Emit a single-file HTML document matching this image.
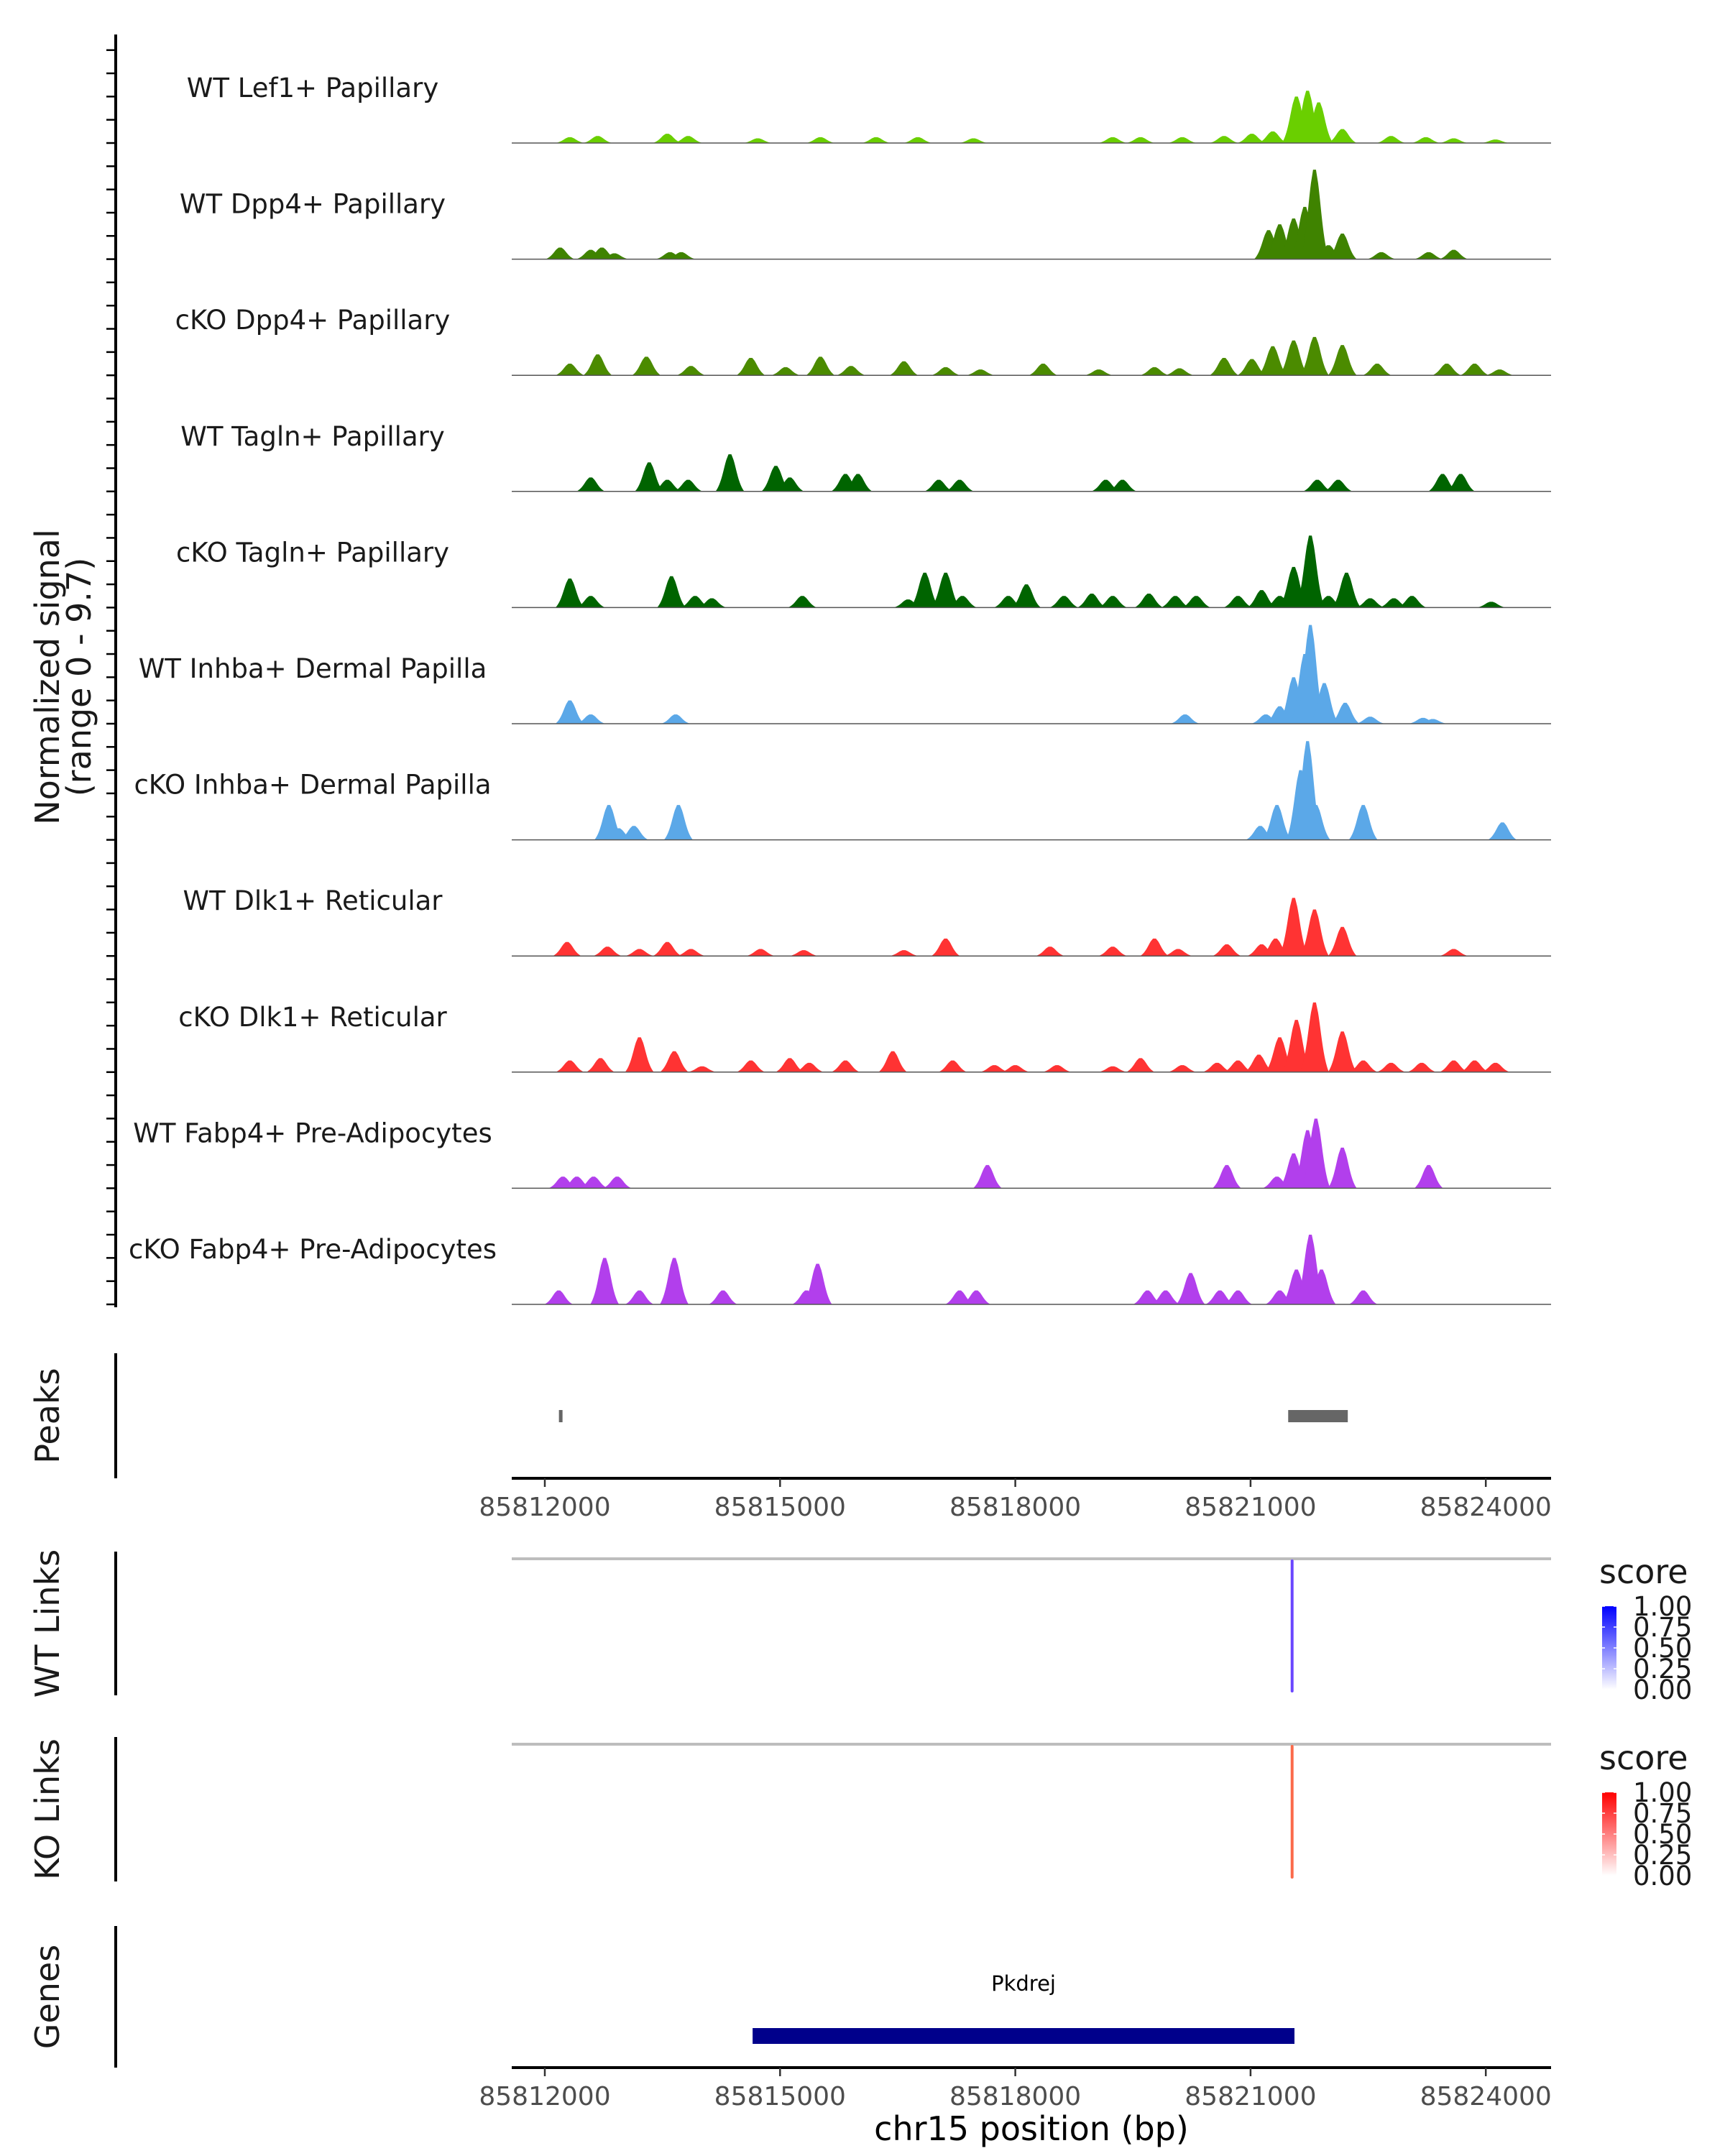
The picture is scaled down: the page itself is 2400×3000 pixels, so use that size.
<!DOCTYPE html>
<html><head><meta charset="utf-8"><style>
body{margin:0;background:#fff}
svg{display:block;font-family:"DejaVu Sans","Liberation Sans",sans-serif}
</style></head><body>
<svg id="chart" width="2400" height="3000" viewBox="0 0 2400 3000" xmlns="http://www.w3.org/2000/svg"></svg>
<script>
// ---- data (peak positions given on reference pixel grid -> converted to bp; heights as fraction of track range 0-9.7) ----
const trackNames = ["WT Lef1+ Papillary","WT Dpp4+ Papillary","cKO Dpp4+ Papillary","WT Tagln+ Papillary","cKO Tagln+ Papillary","WT Inhba+ Dermal Papilla","cKO Inhba+ Dermal Papilla","WT Dlk1+ Reticular","cKO Dlk1+ Reticular","WT Fabp4+ Pre-Adipocytes","cKO Fabp4+ Pre-Adipocytes"];
const trackColors = ["#6acf00","#3f8300","#4b8b00","#006400","#006400","#5ba8e8","#5ba8e8","#ff3333","#ff3333","#b23fec","#b23fec"];
const peaksLef1 = [[410,.05],[430,.06],[480,.08],[495,.06],[545,.04],[590,.05],[630,.05],[660,.05],[700,.04],[800,.05],[820,.05],[850,.05],[880,.06],[900,.08],[915,.1],[932,.4],[940,.45],[948,.35],[965,.12],[1000,.06],[1025,.05],[1045,.04],[1075,.03]];
const peaksDpp4WT = [[403,.1],[425,.08],[433,.1],[442,.05],[482,.06],[490,.06],[912,.25],[920,.3],[930,.35],[938,.45],[945,.77],[955,.12],[965,.22],[993,.06],[1027,.06],[1045,.08]];
const peaksDpp4KO = [[410,.1],[430,.18],[465,.16],[497,.08],[540,.15],[565,.07],[590,.16],[612,.08],[650,.12],[680,.07],[705,.05],[750,.1],[790,.05],[830,.07],[848,.06],[880,.15],[900,.14],[915,.25],[930,.3],[945,.33],[965,.26],[990,.1],[1040,.1],[1060,.1],[1078,.05]];
const peaksTaglnWT = [[425,.12],[467,.25],[480,.1],[495,.1],[525,.32],[558,.22],[568,.12],[608,.15],[617,.15],[675,.1],[690,.1],[795,.1],[807,.1],[947,.1],[962,.1],[1037,.15],[1050,.15]];
const peaksTaglnKO = [[410,.25],[425,.1],[483,.27],[500,.1],[512,.08],[577,.1],[653,.07],[665,.3],[680,.3],[692,.1],[725,.1],[738,.2],[765,.1],[785,.12],[800,.1],[826,.12],[845,.1],[860,.1],[890,.1],[907,.15],[920,.1],[930,.35],[942,.62],[955,.1],[968,.3],[985,.08],[1002,.08],[1015,.1],[1072,.05]];
const peaksInhbaWT = [[410,.2],[425,.08],[486,.08],[852,.08],[910,.08],[920,.15],[930,.4],[938,.6],[942,.85],[952,.35],[967,.18],[985,.06],[1023,.05],[1030,.04]];
const peaksInhbaKO = [[438,.3],[445,.1],[456,.12],[488,.3],[906,.12],[918,.3],[935,.6],[940,.85],[946,.3],[980,.3],[1080,.15]];
const peaksDlk1WT = [[408,.12],[437,.08],[460,.06],[480,.12],[497,.06],[547,.06],[578,.05],[650,.05],[680,.15],[755,.08],[800,.08],[830,.15],[847,.06],[882,.1],[907,.1],[917,.15],[930,.5],[945,.4],[965,.25],[1045,.06]];
const peaksDlk1KO = [[410,.1],[432,.12],[460,.3],[485,.18],[505,.05],[540,.1],[568,.12],[582,.08],[608,.1],[642,.18],[685,.1],[715,.06],[730,.06],[760,.06],[800,.05],[820,.12],[850,.06],[875,.08],[890,.1],[905,.15],[920,.3],[932,.45],[945,.6],[965,.35],[980,.1],[1000,.08],[1022,.08],[1045,.1],[1060,.1],[1075,.08]];
const peaksFabp4WT = [[405,.1],[415,.1],[427,.1],[444,.1],[710,.2],[882,.2],[918,.1],[930,.3],[940,.5],[946,.6],[965,.35],[1027,.2]];
const peaksFabp4KO = [[402,.12],[435,.4],[460,.12],[485,.4],[520,.12],[580,.12],[588,.35],[690,.12],[702,.12],[825,.12],[838,.12],[856,.27],[877,.12],[890,.12],[920,.12],[932,.3],[942,.6],[950,.3],[980,.12]];
const trackPeaks = [peaksLef1,peaksDpp4WT,peaksDpp4KO,peaksTaglnWT,peaksTaglnKO,peaksInhbaWT,peaksInhbaKO,peaksDlk1WT,peaksDlk1KO,peaksFabp4WT,peaksFabp4KO];
const tickValues = [85812000,85815000,85818000,85821000,85824000];
const peakRegions = [[85812180,85812220],[85821480,85822240]];
const wtLinks = [[85821530,1.0]];
const koLinks = [[85821530,0.6]];
const genes = [["Pkdrej",85814650,85821560]];
const legendLabels = ["1.00","0.75","0.50","0.25","0.00"];

// ---- scales ----
const NS="http://www.w3.org/2000/svg", svg=document.getElementById('chart');
const X0=712, X1=2158;
const xs = bp => 758 + (bp-85812000)/1000*109.1;
const refToBp = r => 85812000 + (r-392)*17.75;
function el(tag,attrs,parent){const e=document.createElementNS(NS,tag);for(const k in attrs)e.setAttribute(k,attrs[k]);(parent||svg).appendChild(e);return e;}
function txt(s,attrs,parent){const e=el('text',attrs,parent);e.textContent=s;return e;}

// ---- tracks ----
const TH=161.6, B0=199;
const yaxis=el('line',{x1:161,x2:161,y1:48,y2:1819,stroke:'#000','stroke-width':4});


trackNames.forEach((name,i)=>{
  const base=B0+i*TH;
  const g=el('g',{});
  
  
  for(let k=0;k<5;k++){el('line',{x1:148,x2:161,y1:base-k*TH/5,y2:base-k*TH/5,stroke:'#000','stroke-width':2.5},g);}
  const lab=txt(name,{x:435,y:base-64,'text-anchor':'middle','font-size':37,fill:'#1a1a1a'},g);
  
  
  trackPeaks[i].forEach(p=>{
    const bp=refToBp(p[0]), h=p[1]*TH;
    const cx=xs(bp), w=20;
    const d=`M${cx-w},${base} C${cx-w*0.6},${base-h*0.2} ${cx-w*0.45},${base-h*0.6} ${cx-w*0.25},${base-h*0.85} L${cx-w*0.1},${base-h} L${cx+w*0.1},${base-h} L${cx+w*0.25},${base-h*0.85} C${cx+w*0.45},${base-h*0.6} ${cx+w*0.6},${base-h*0.2} ${cx+w},${base} Z`;
    const pk=el('path',{d:d,fill:trackColors[i]},g);
    
    
  });
  el('line',{x1:X0,x2:X1,y1:base,y2:base,stroke:'#555','stroke-width':1.5},g);
});
const ylab=txt('Normalized signal',{transform:'translate(82,942) rotate(-90)','text-anchor':'middle','font-size':46,fill:'#1a1a1a'});


const ylab2=txt('(range 0 - 9.7)',{transform:'translate(126,942) rotate(-90)','text-anchor':'middle','font-size':46,fill:'#1a1a1a'});



// ---- panel helper ----
function panelLabel(s,y1,y2,name){
  const l=el('line',{x1:161,x2:161,y1:y1,y2:y2,stroke:'#000','stroke-width':4});
  
  
  const t=txt(s,{transform:`translate(82,${(y1+y2)/2}) rotate(-90)`,'text-anchor':'middle','font-size':46,fill:'#1a1a1a'});
  
  
}
function xAxis(y,name){
  const g=el('g',{});
  
  
  el('line',{x1:X0,x2:X1,y1:y,y2:y,stroke:'#000','stroke-width':4},g);
  tickValues.forEach(v=>{
    el('line',{x1:xs(v),x2:xs(v),y1:y,y2:y+12,stroke:'#333','stroke-width':2.5},g);
    const t=txt(String(v),{x:xs(v),y:y+52,'text-anchor':'middle','font-size':36,fill:'#4d4d4d'},g);
    
    
  });
}

// ---- peaks panel ----
panelLabel('Peaks',1883,2057,'peaks');
peakRegions.forEach(r=>{
  const x1=xs(r[0]),x2=xs(r[1]);
  const rc=el('rect',{x:x1,y:1962,width:Math.max(5,x2-x1),height:17,fill:'#666'});
  
  
});
xAxis(2057,'peaks-x-axis');

// ---- links ----
function linksPanel(label,top,bottom,links,color,name){
  panelLabel(label,top-10,bottom+6,name);
  el('line',{x1:X0,x2:X1,y1:top,y2:top,stroke:'#bdbdbd','stroke-width':4});
  links.forEach(l=>{
    const ln=el('line',{x1:xs(l[0]),x2:xs(l[0]),y1:top+3,y2:bottom,stroke:color,'stroke-width':4,'stroke-linecap':'round'});
    
    
  });
}
linksPanel('WT Links',2169,2353,wtLinks,'#6a46ff','wt-links');
linksPanel('KO Links',2427,2612,koLinks,'#fb6a4a','ko-links');

function legend(top,c1,name){
  const g=el('g',{});
  
  
  txt('score',{x:2225,y:top,'font-size':46,fill:'#1a1a1a'},g);
  const gid=name+'-grad';
  const defs=el('defs',{},g);
  const lg=el('linearGradient',{id:gid,x1:0,y1:0,x2:0,y2:1},defs);
  el('stop',{offset:0,'stop-color':c1},lg);
  el('stop',{offset:1,'stop-color':'#ffffff'},lg);
  const by=top+32, bh=116;
  el('rect',{x:2229,y:by,width:20,height:bh,fill:`url(#${gid})`},g);
  legendLabels.forEach((s,k)=>{
    const yy=by+k*bh/4;
    el('line',{x1:2229,x2:2233,y1:yy,y2:yy,stroke:'#fff','stroke-width':1.5},g);
    el('line',{x1:2245,x2:2249,y1:yy,y2:yy,stroke:'#fff','stroke-width':1.5},g);
    txt(s,{x:2272,y:yy+13,'font-size':37,fill:'#1a1a1a'},g);
  });
}
legend(2203,'#0000ff','wt-score-legend');
legend(2462,'#ff0000','ko-score-legend');

// ---- genes ----
panelLabel('Genes',2680,2877,'genes');
genes.forEach(gn=>{
  const x1=xs(gn[1]),x2=xs(gn[2]);
  const r=el('rect',{x:x1,y:2822,width:x2-x1,height:22,fill:'#00008b'});
  
  
  const t=txt(gn[0],{x:(x1+x2)/2,y:2770,'text-anchor':'middle','font-size':29,fill:'#000'});
  
  
});
xAxis(2877,'genes-x-axis');
const xt=txt('chr15 position (bp)',{x:1435,y:2978,'text-anchor':'middle','font-size':46,fill:'#000'});


</script>
</body></html>
